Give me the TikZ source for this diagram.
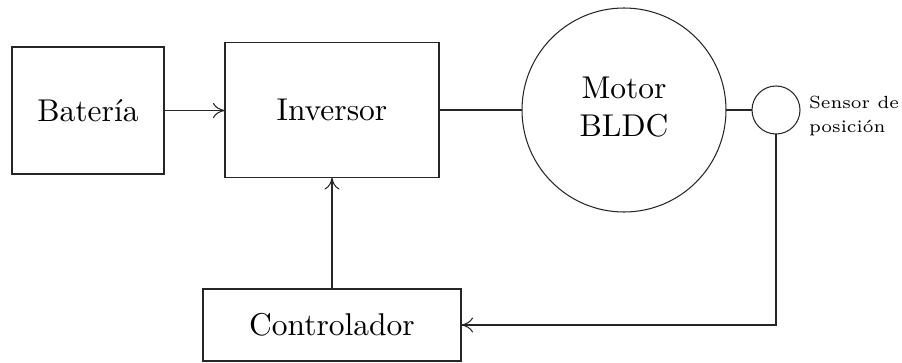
\documentclass[tikz,border=0pt]{standalone}
\usetikzlibrary{arrows.meta}
% scaled text keeps the 10pt (and 6pt) design sizes of Latin Modern
\newcommand\lbltxt[1]{\scalebox{3.15}{#1}}
\begin{document}
\begin{tikzpicture}[x=1pt,y=-1pt,
  every node/.style={inner sep=0pt, outer sep=0pt},
  wire/.style={draw=black!85, line width=1.05pt},
  blk/.style={wire, rectangle},
  rnd/.style={wire, circle},
  arr/.style={wire, -{To[length=12pt,width=15pt]}}
]
\useasboundingbox (0,0) rectangle (902,362);

% blocks
\node[blk, minimum width=152pt, minimum height=127pt] (bat) at (88,110.5) {\lbltxt{Batería}};
\node[blk, minimum width=214pt, minimum height=135pt] (inv) at (332,110) {\lbltxt{Inversor}};
\node[rnd, minimum size=204pt] (mot) at (624,110)
  {\lbltxt{\begin{tabular}{@{}c@{}}Motor\\BLDC\end{tabular}}};
\node[rnd, minimum size=48pt] (sen) at (776,110) {};
\node[anchor=west] (senlbl) at (809,116)
  {\resizebox{90pt}{!}{\fontsize{6}{8.2}\selectfont\begin{tabular}{@{}l@{}}Sensor de\\posición\end{tabular}}};
\node[blk, minimum width=258pt, minimum height=72pt] (ctl) at (332,325) {\lbltxt{Controlador}};

% connections
\draw[arr] (bat.east) -- (bat.east -| inv.west);
\draw[wire] (inv.east) -- (mot.west);
\draw[wire] (mot.east) -- (sen.west);
\draw[arr] (ctl.north) -- (inv.south);
\draw[arr] (sen.south) |- (ctl.east);
\end{tikzpicture}
\end{document}
